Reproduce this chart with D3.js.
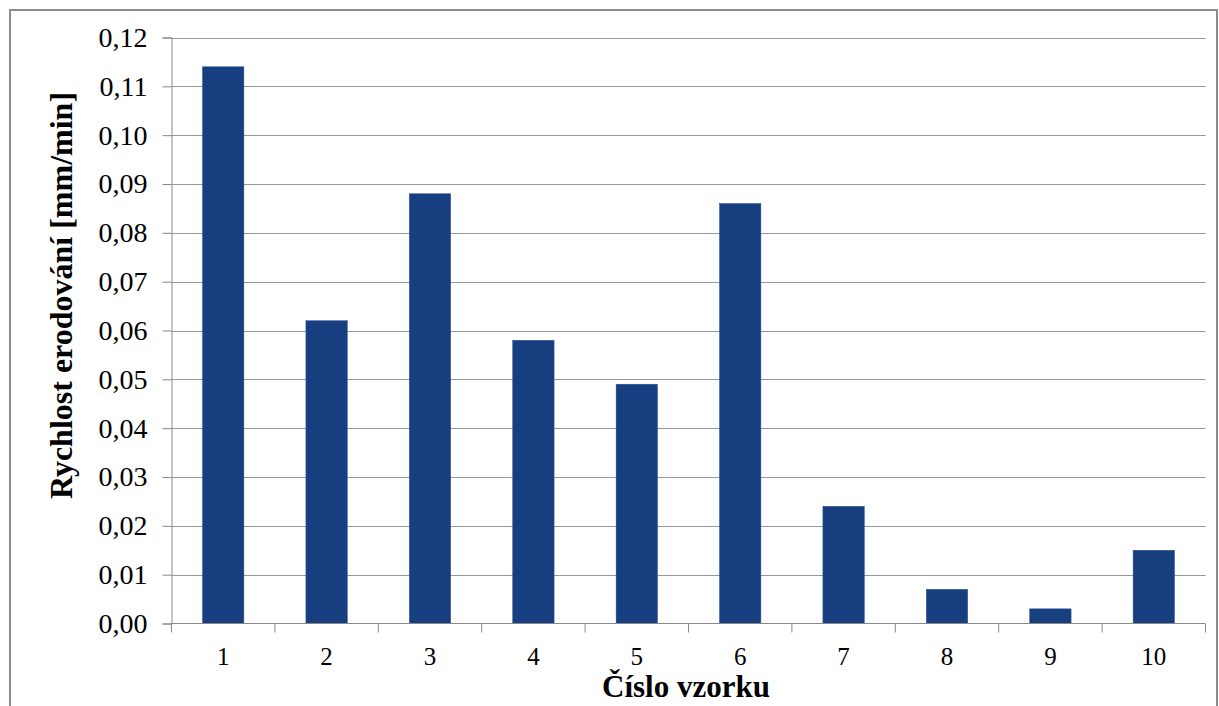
<!DOCTYPE html>
<html><head><meta charset="utf-8">
<script src="https://cdn.jsdelivr.net/npm/d3@7"></script>
<style>html,body{margin:0;padding:0;background:#fff;}svg{display:block;}</style>
</head><body><svg id="c" width="1219" height="706"></svg>
<script>
const categories = ["1","2","3","4","5","6","7","8","9","10"];
const values = [0.114, 0.062, 0.088, 0.058, 0.049, 0.086, 0.024, 0.007, 0.003, 0.015];
const yTicks = [0,0.01,0.02,0.03,0.04,0.05,0.06,0.07,0.08,0.09,0.10,0.11,0.12];
const yTitle = "Rychlost erodování [mm/min]";
const xTitle = "Číslo vzorku";

const svg = d3.select("#c");
const font = "'Liberation Serif','Times New Roman',serif";
const L = 171.5, R = 1205.5, T = 37.5, B = 623.5;

svg.append("rect").attr("x",10).attr("y",10).attr("width",1207).attr("height",720)
  .attr("fill","#fff").attr("stroke","#8c8c8c").attr("stroke-width",2);

const x = d3.scaleBand().domain(categories).range([L,R]).paddingInner(0.6).paddingOuter(0.3);
const xc = d3.scaleBand().domain(categories).range([L,R]);
const y = d3.scaleLinear().domain([0,0.12]).range([B,T]);

// gridlines
svg.append("g").selectAll("line").data(yTicks.filter(d=>d>0)).join("line")
  .attr("x1",L).attr("x2",R).attr("y1",d=>Math.round(y(d))+0.5).attr("y2",d=>Math.round(y(d))+0.5)
  .attr("stroke","#989898").attr("stroke-width",1);

// bars
svg.append("g").selectAll("rect").data(values).join("rect")
  .attr("x",(d,i)=>x(categories[i])).attr("width",x.bandwidth())
  .attr("y",d=>y(d)).attr("height",d=>B-y(d))
  .attr("fill","#173f80").attr("stroke","#2a5090").attr("stroke-width",0.5);

// y axis
const ya = d3.axisLeft(y).tickValues(yTicks).tickSize(9).tickPadding(15)
  .tickFormat(d=>d3.format(".2f")(d).replace(".",","));
const gy = svg.append("g").attr("transform",`translate(${L},0)`).call(ya);
gy.attr("font-family",null).attr("font-size",null);
gy.selectAll("path,line").attr("stroke","#888");
gy.selectAll("text").style("font-family",font).style("font-size","28px").attr("fill","#000");

// x axis
const xa = d3.axisBottom(xc).tickSize(0).tickPadding(23.5);
const gx = svg.append("g").attr("transform",`translate(0,${B})`).call(xa);
gx.attr("font-family",null).attr("font-size",null);
gx.select("path").attr("stroke","#888").attr("d",`M${L},0H${R}`);
gx.selectAll("text").style("font-family",font).style("font-size","25px").attr("fill","#000");
svg.append("g").selectAll("line").data(d3.range(categories.length+1)).join("line")
  .attr("x1",i=>L+i*xc.step()).attr("x2",i=>L+i*xc.step())
  .attr("y1",B).attr("y2",B+9).attr("stroke","#888");

// titles
svg.append("text").attr("x",686).attr("y",697).attr("text-anchor","middle")
  .style("font-family",font).style("font-size","31px").attr("font-weight","bold").text(xTitle);
svg.append("text").attr("transform",`translate(72,295.5) rotate(-90)`).attr("text-anchor","middle")
  .style("font-family",font).style("font-size","32px").attr("font-weight","bold").text(yTitle);
</script></body></html>
